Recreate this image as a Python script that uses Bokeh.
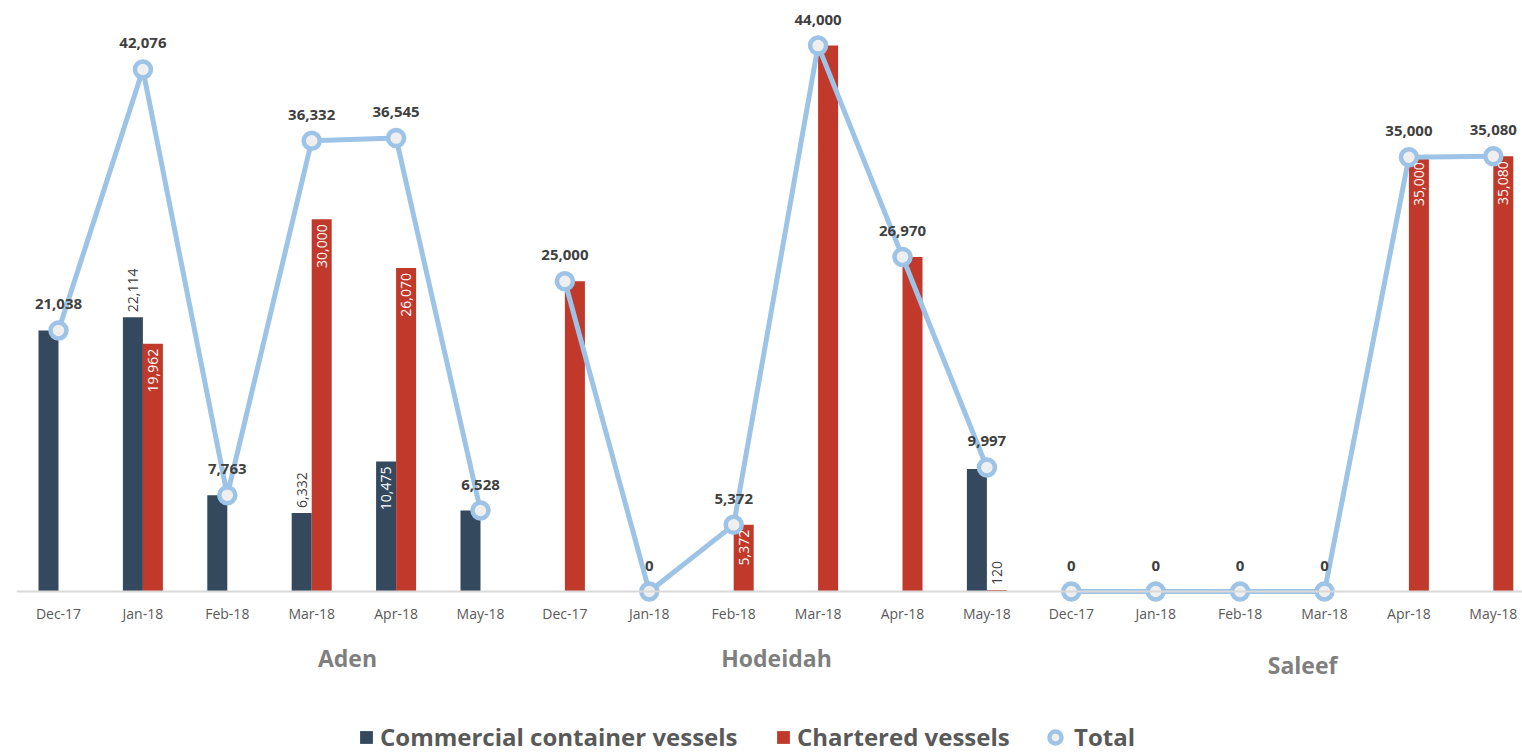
import numpy as np
from bokeh.plotting import figure
from bokeh.models import ColumnDataSource, Range1d, Span, Legend, LegendItem
from bokeh.core.properties import value
from bokeh.embed import file_html
from bokeh.resources import INLINE

# ---------------- data ----------------
ports = ["Aden", "Hodeidah", "Saleef"]
months = ["Dec-17", "Jan-18", "Feb-18", "Mar-18", "Apr-18", "May-18"]

aden_commercial = [21038, 22114, 7763, 6332, 10475, 6528]
aden_chartered = [0, 19962, 0, 30000, 26070, 0]
hodeidah_commercial = [0, 0, 0, 0, 0, 9877]
hodeidah_chartered = [25000, 0, 5372, 44000, 26970, 120]
saleef_commercial = [0, 0, 0, 0, 0, 0]
saleef_chartered = [0, 0, 0, 0, 35000, 35080]

# which bar values carry a data label (index into the 18 categories)
commercial_label_inside = [4]
commercial_label_outside = [1, 3]
chartered_label_inside = [1, 3, 4, 8, 16, 17]
chartered_label_outside = [11]

# ---------------- styles ----------------
NAVY = "#34495e"
RED = "#c0392b"
BLUE = "#9dc3e6"
DARK = "#404040"
MID = "#595959"
GREY = "#7f7f7f"
FONT = value("Open Sans")

commercial = aden_commercial + hodeidah_commercial + saleef_commercial
chartered = aden_chartered + hodeidah_chartered + saleef_chartered
total = [c + h for c, h in zip(commercial, chartered)]
cats = months * 3
idx = np.arange(len(cats), dtype=float)
BW = 0.237  # bar width (category units)

W, H = 1522, 756
p = figure(width=W, height=H, output_backend="svg", toolbar_location=None,
           x_axis_type=None, y_axis_type=None,
           x_range=Range1d(-0.4976, 17.346), y_range=Range1d(-13299, 47635),
           min_border_left=16, min_border_right=0, min_border_top=0, min_border_bottom=0)
p.outline_line_color = None
p.grid.visible = False
p.background_fill_color = "white"

src = ColumnDataSource(dict(
    x=idx, xc=idx - BW / 2, xr=idx + BW / 2,
    commercial=commercial, chartered=chartered, total=total, cats=cats,
    total_lbl=[f"{v:,}" for v in total],
    com_lbl=[f"{v:,}" for v in commercial],
    cha_lbl=[f"{v:,}" for v in chartered],
))

r_com = p.vbar(x="xc", top="commercial", width=BW, source=src, fill_color=NAVY, line_color=None)
r_cha = p.vbar(x="xr", top="chartered", width=BW, source=src, fill_color=RED, line_color=None)

p.add_layout(Span(location=0, dimension="width", line_color="#d9d9d9", line_width=2))

# total line, broken per port
for k in range(3):
    sl = slice(6 * k, 6 * k + 6)
    p.line(x=list(idx[sl]), y=total[sl], line_color=BLUE, line_width=5)
r_tot = p.scatter(x="x", y="total", source=src, size=16, fill_color="#efefef",
                  line_color=BLUE, line_width=4.5)

# total labels
p.text(x="x", y="total", text="total_lbl", source=src, text_align="center",
       text_baseline="middle", y_offset=-26, text_font=FONT, text_font_style="bold",
       text_font_size="15px", text_color=DARK)


def bar_labels(ids, xcol, ycol, lcol, inside):
    s = ColumnDataSource(dict(x=[src.data[xcol][i] for i in ids],
                              y=[src.data[ycol][i] for i in ids],
                              t=[src.data[lcol][i] for i in ids]))
    p.text(x="x", y="y", text="t", source=s, angle=np.pi / 2,
           text_align="right" if inside else "left", text_baseline="middle",
           y_offset=5 if inside else -5, text_font=FONT, text_font_size="14px",
           text_color="white" if inside else DARK)


bar_labels(commercial_label_inside, "xc", "commercial", "com_lbl", True)
bar_labels(commercial_label_outside, "xc", "commercial", "com_lbl", False)
bar_labels(chartered_label_inside, "xr", "chartered", "cha_lbl", True)
bar_labels(chartered_label_outside, "xr", "chartered", "cha_lbl", False)

# month labels
p.text(x="x", y=0, text="cats", source=src, text_align="center", text_baseline="middle",
       y_offset=22, text_font=FONT, text_font_size="14px", text_color=MID)

# port labels
port_x = [3.424, 8.507, 14.74]
port_dy = [66, 66, 73]
for name, px, dy in zip(ports, port_x, port_dy):
    p.text(x=[px], y=[0], text=[name], text_align="center", text_baseline="middle",
           y_offset=dy, text_font=FONT, text_font_style="bold", text_font_size="23px",
           text_color=GREY)

# legends
def add_legend(label, rend, vx, gw, standoff):
    lg = Legend(items=[LegendItem(label=label, renderers=[rend])], location=(vx, 3),
                orientation="horizontal", glyph_width=gw, glyph_height=gw,
                label_standoff=standoff, padding=0, margin=0, spacing=0,
                border_line_color=None, background_fill_alpha=0,
                label_text_font="Open Sans", label_text_font_style="bold",
                label_text_font_size="24px", label_text_color=MID)
    p.add_layout(lg)


add_legend("Commercial container vessels", r_com, 342, 16, 6)
add_legend("Chartered vessels", r_cha, 759, 16, 6)
add_legend("Total", r_tot, 1024, 30, 4)

open("out.html", "w").write(file_html(p, INLINE))
